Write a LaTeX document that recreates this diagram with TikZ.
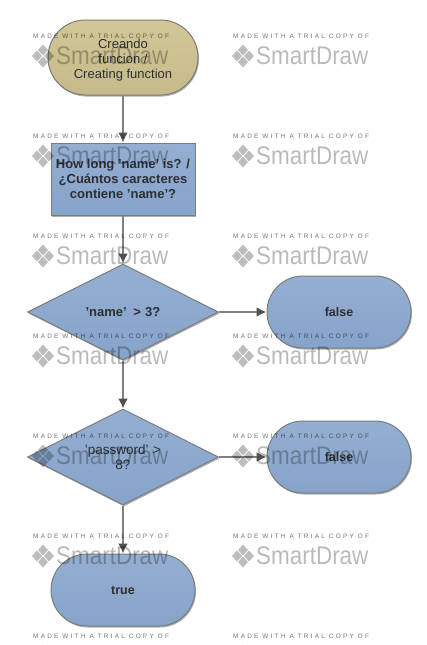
\documentclass[tikz,border=0pt]{standalone}
\usepackage{fontspec}
\setmainfont{Liberation Sans}
\newfontfamily\wmsmall[LetterSpace=35]{Liberation Sans}
\newfontfamily\wmlogo{Liberation Sans}
\usetikzlibrary{shapes.geometric,shapes.misc,shadows,arrows.meta}
\definecolor{bluetop}{HTML}{94AFD1}
\definecolor{bluebot}{HTML}{86A3CA}
\definecolor{tantop}{HTML}{D2C796}
\definecolor{tanbot}{HTML}{C6BA8A}
\definecolor{edgegray}{HTML}{7C7C7C}
\definecolor{linkgray}{HTML}{808080}
\definecolor{tipgray}{HTML}{505050}
\definecolor{inkdark}{HTML}{2E2E33}
\tikzset{
  flowshape/.style={draw=edgegray,line width=1pt,top color=bluetop,bottom color=bluebot,
    text=inkdark,align=center,font=\fontsize{12}{15}\selectfont,inner sep=0pt,
    drop shadow={shadow xshift=1pt,shadow yshift=-1.5pt,opacity=.45,fill=black!70}},
  termshape/.style={flowshape,rounded rectangle,minimum width=144pt,minimum height=72pt},
  boxshape/.style={flowshape,rectangle,minimum width=144pt,minimum height=72pt},
  decision/.style={flowshape,diamond,aspect=2,minimum width=191pt,minimum height=96pt,text width=110pt},
  link/.style={draw=linkgray,line width=2pt,-{Latex[length=10pt,width=10pt,color=tipgray]}},
  wmtext/.style={inner sep=0pt,text=black,opacity=.55,font=\wmsmall\fontsize{6.4}{7}\selectfont,anchor=west},
  wmword/.style={inner sep=0pt,text=black,opacity=.27,font=\wmlogo\fontsize{25.5}{30}\selectfont,anchor=west},
  wmchip/.style={fill=black,opacity=.26,draw=none}
}
\newcommand{\wmark}[3]{%
  \begin{scope}[shift={(#1,#2)}]
    \node[wmtext] (wmt#3) at (0,0) {MADE WITH A TRIAL COPY OF};
    \node[wmword] (wmw#3) at (23,20) {\scalebox{.88}[1]{SmartDraw}};
    \fill[wmchip] (10,8.5) -- (15,14) -- (10,19.5) -- (5,14) -- cycle;
    \fill[wmchip] (4,14.5) -- (9,20) -- (4,25.5) -- (-1,20) -- cycle;
    \fill[wmchip] (16,14.5) -- (21,20) -- (16,25.5) -- (11,20) -- cycle;
    \fill[wmchip] (10,20.5) -- (15,26) -- (10,31.5) -- (5,26) -- cycle;
  \end{scope}}
\begin{document}
\begin{tikzpicture}[x=1pt,y=-1pt]
\useasboundingbox (0,0) rectangle (426,645);
\fill[white] (0,0) rectangle (426,645);
\node[termshape,top color=tantop,bottom color=tanbot,minimum width=150pt,minimum height=75pt,font=\fontsize{13}{15}\selectfont] (start) at (123,57.5) {\rule{0pt}{15pt}Creando\\funcion /\\Creating function};
\node[boxshape,font=\bfseries\fontsize{13}{15}\selectfont] (len) at (123,179) {How long 'name' is? /\\¿Cuántos caracteres\\contiene 'name'?};
\node[decision,font=\bfseries\fontsize{13}{15}\selectfont] (dname) at (123,312) {'name' \,> 3?};
\node[termshape,font=\bfseries\fontsize{12.5}{15}\selectfont] (f1) at (339,312) {false};
\node[decision,font=\fontsize{13.5}{15}\selectfont] (dpass) at (123,457) {'password' >\\8?};
\node[termshape,font=\bfseries\fontsize{12.5}{15}\selectfont] (f2) at (339,457) {false};
\node[termshape,font=\bfseries\fontsize{12.5}{15}\selectfont] (tr) at (123,590) {true};
\draw[link] (start) -- (len);
\draw[link] (len) -- (dname);
\draw[link] (dname) -- (f1);
\draw[link] (dname) -- (dpass);
\draw[link] (dpass) -- (f2);
\draw[link] (dpass) -- (tr);
\foreach \r in {36,136,236,336,436,536,636}{
  \wmark{33}{\r}{L\r}
  \wmark{233}{\r}{R\r}
}
\end{tikzpicture}
\end{document}
